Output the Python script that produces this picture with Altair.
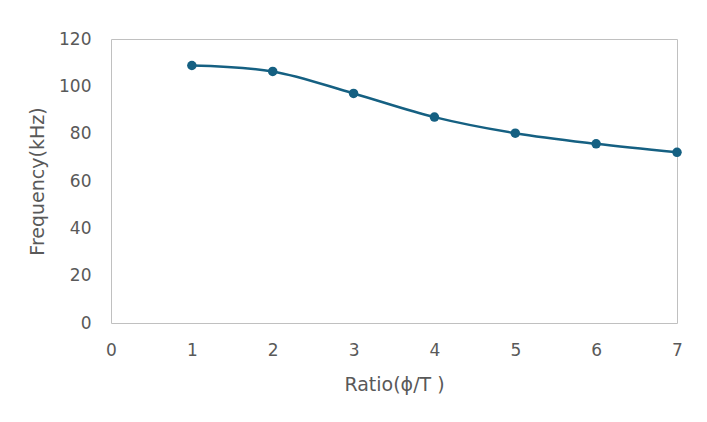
import altair as alt
import pandas as pd

ratio = [1, 2, 3, 4, 5, 6, 7]
frequency = [108.8, 106.3, 97.0, 87.0, 80.2, 75.7, 72.1]

df = pd.DataFrame({"ratio": ratio, "frequency": frequency})

FONT = "DejaVu Sans"
TEXT = "#595959"
BLUE = "#156082"

x = alt.X(
    "ratio:Q",
    scale=alt.Scale(domain=[0, 7], nice=False, zero=True),
    axis=alt.Axis(
        title="Ratio(ϕ/T )",
        values=[0, 1, 2, 3, 4, 5, 6, 7],
        format="d",
        domain=False,
        ticks=False,
        tickSize=0,
        grid=False,
        labelFlush=False,
        labelOverlap=False,
        labelPadding=19,
        labelFontSize=17,
        labelColor=TEXT,
        labelFont=FONT,
        titleFont=FONT,
        titleFontSize=19,
        titleFontWeight="normal",
        titleColor=TEXT,
        titleBaseline="alphabetic",
        titleY=67,
    ),
)
y = alt.Y(
    "frequency:Q",
    scale=alt.Scale(domain=[0, 120], nice=False),
    axis=alt.Axis(
        title="Frequency(kHz)",
        values=[0, 20, 40, 60, 80, 100, 120],
        domain=False,
        ticks=False,
        tickSize=0,
        grid=False,
        labelFlush=False,
        labelOverlap=False,
        labelPadding=20,
        labelFontSize=17,
        labelColor=TEXT,
        labelFont=FONT,
        titleFont=FONT,
        titleFontSize=19,
        titleFontWeight="normal",
        titleColor=TEXT,
        titleBaseline="alphabetic",
        titleAngle=270,
        titleAlign="center",
        titleX=-68,
        titleY=142,
    ),
)

base = alt.Chart(df)
line = base.mark_line(color=BLUE, strokeWidth=2.5, interpolate="catmull-rom").encode(x=x, y=y)
pts = base.mark_point(color=BLUE, filled=True, opacity=1, size=90).encode(x=x, y=y)

chart = (
    alt.layer(line, pts)
    .properties(
        width=566,
        height=284,
        autosize=alt.AutoSizeParams(type="none"),
        padding={"left": 103, "top": 31, "right": 14, "bottom": 80},
    )
    .configure_view(stroke="#c0c0c0", strokeWidth=1)
)

chart.save("out.html", embed_options={"renderer": "svg", "actions": False})
